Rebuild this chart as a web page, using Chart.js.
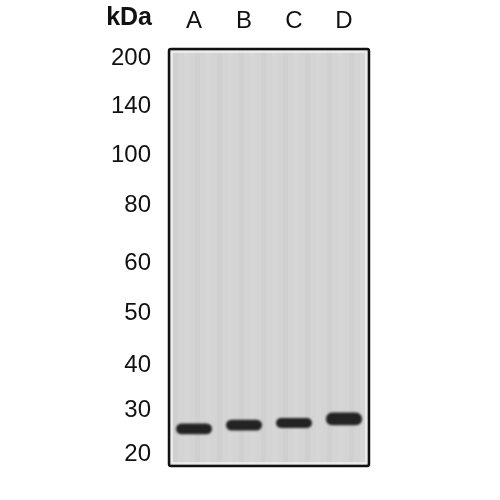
<!DOCTYPE html>
<html>
<head>
<meta charset="utf-8">
<script src="https://cdn.jsdelivr.net/npm/chart.js@4.4.1/dist/chart.umd.min.js"></script>
<style>
  html, body { margin: 0; padding: 0; background: #fff; }
  #blot { display: block; }
</style>
</head>
<body>
<canvas id="blot" width="500" height="500"></canvas>
<script>
// lanes and marker ladder
const lanes = ["A", "B", "C", "D"];
const markerKDa = [200, 140, 100, 80, 60, 50, 40, 30, 20];
// relative migration (0 = top of gel, 100 = bottom)
const markerMigration = [2.2, 13.7, 25.4, 37.6, 51.3, 63.5, 75.9, 86.6, 97.1];
const bandMigration = [91.1, 90.2, 89.7, 88.7];
const bandSpread = [1.3, 1.3, 1.2, 1.5];

const bands = bandMigration.map((m, i) => [m - bandSpread[i], m + bandSpread[i]]);

const gelBackground = {
  id: "gelBackground",
  beforeDatasetsDraw(chart) {
    const { ctx, chartArea: a } = chart;
    ctx.save();
    ctx.fillStyle = "#d4d4d4";
    ctx.fillRect(a.left, a.top, a.right - a.left, a.bottom - a.top);
    // faint vertical streaks of the membrane
    for (let x = a.left + 4; x < a.right - 4; x += 11) {
      ctx.fillStyle = (Math.floor(x) % 2 === 0) ? "rgba(255,255,255,0.05)" : "rgba(0,0,0,0.015)";
      ctx.fillRect(x, a.top, 5, a.bottom - a.top);
    }
    ctx.strokeStyle = "#f2f2f2";
    ctx.lineWidth = 1.5;
    ctx.strokeRect(a.left + 3, a.top + 3, a.right - a.left - 6, a.bottom - a.top - 6);
    ctx.restore();
    ctx.save();
    ctx.filter = "blur(1.3px)";
  },
  afterDatasetsDraw(chart) {
    const { ctx, chartArea: a } = chart;
    ctx.restore();
    ctx.save();
    ctx.strokeStyle = "#111";
    ctx.lineWidth = 2.5;
    ctx.beginPath();
    ctx.roundRect(a.left, a.top, a.right - a.left, a.bottom - a.top, 2);
    ctx.stroke();
    ctx.fillStyle = "#111";
    ctx.font = "bold 25px 'Liberation Sans', Arial, sans-serif";
    ctx.textAlign = "right";
    ctx.textBaseline = "middle";
    ctx.fillText("kDa", 152, 18);
    ctx.restore();
  }
};

new Chart(document.getElementById("blot"), {
  type: "bar",
  data: {
    labels: lanes,
    datasets: [{
      label: "band",
      data: bands,
      backgroundColor: "#232323",
      borderRadius: 6,
      borderSkipped: false,
      barPercentage: 0.72,
      categoryPercentage: 1.0
    }]
  },
  options: {
    responsive: false,
    animation: false,
    layout: { padding: { top: 0, left: 0, right: 131, bottom: 34 } },
    plugins: {
      legend: { display: false },
      tooltip: { enabled: false }
    },
    scales: {
      x: {
        position: "top",
        grid: { display: false, drawTicks: false },
        border: { display: false },
        ticks: {
          color: "#111",
          padding: 13,
          font: { family: "'Liberation Sans', Arial, sans-serif", size: 24 }
        },
        afterFit(scale) { scale.height = 49; }
      },
      y: {
        reverse: true,
        min: 0,
        max: 100,
        grid: { display: false, drawTicks: false },
        border: { display: false },
        afterBuildTicks(scale) {
          scale.ticks = markerMigration.map(v => ({ value: v }));
        },
        ticks: {
          color: "#111",
          padding: 18,
          autoSkip: false,
          font: { family: "'Liberation Sans', Arial, sans-serif", size: 24 },
          callback: (value, index) => String(markerKDa[index])
        },
        afterFit(scale) { scale.width = 169; }
      }
    }
  },
  plugins: [gelBackground]
});
</script>
</body>
</html>
